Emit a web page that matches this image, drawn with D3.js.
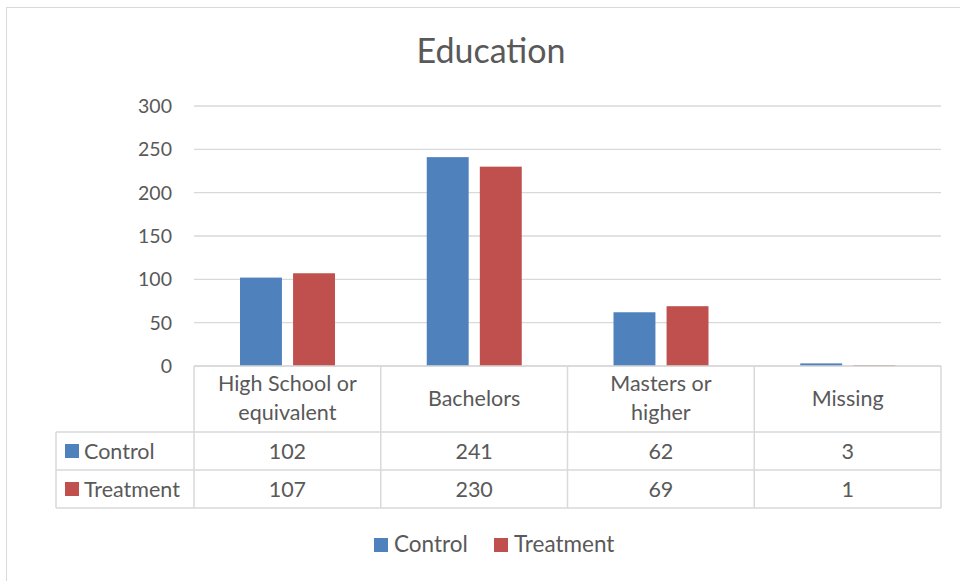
<!DOCTYPE html>
<html><head><meta charset="utf-8">
<script src="https://cdn.jsdelivr.net/npm/d3@7"></script>
<style>body{margin:0;background:#fff}svg{display:block}text{font-family:Lato,"Open Sans",sans-serif;fill:#595959}</style>
</head><body><svg id="c" width="960" height="581"></svg>
<script>
const categories = [["High School or","equivalent"],["Bachelors"],["Masters or","higher"],["Missing"]];
const seriesNames = ["Control","Treatment"];
const control = [102,241,62,3];
const treatment = [107,230,69,1];
const yTicks = [0,50,100,150,200,250,300];
const colors = ["#4F81BD","#C0504D"];

const svg = d3.select("#c");
const L=194,R=941,T=106,B=366;
svg.append("rect").attr("x",6.5).attr("y",7.5).attr("width",960).attr("height",590).attr("fill","#fff").attr("stroke","#d9d9d9");
svg.append("text").attr("x",491).attr("y",63).attr("text-anchor","middle").style("font-size","34px").text("Education");

const y = d3.scaleLinear().domain([0,300]).range([B,T]);
const x0 = d3.scaleBand().domain(d3.range(categories.length)).range([L,R]);
const x1 = d3.scaleBand().domain([0,1]).range([46,46+95]).paddingInner(0.21);

const grid = svg.append("g");
yTicks.forEach(t=>{
  grid.append("line").attr("x1",L).attr("x2",R).attr("y1",y(t)).attr("y2",y(t)).attr("stroke","#d9d9d9").attr("stroke-width",1.3);
  svg.append("text").attr("x",172).attr("y",y(t)+7).attr("text-anchor","end").style("font-size","19.5px").text(t);
});
const series=[control,treatment];
series.forEach((s,si)=>{
  svg.append("g").selectAll("rect").data(s).join("rect")
    .attr("x",(d,i)=>x0(i)+x1(si)).attr("width",x1.bandwidth())
    .attr("y",d=>y(d)).attr("height",d=>B-y(d)).attr("fill",colors[si]);
});
// data table
const rowTop=[366,432,470,508];
const fs="21.5px";
const tg=svg.append("g").attr("stroke","#d9d9d9").attr("stroke-width",1.5);
tg.append("line").attr("x1",L).attr("x2",R).attr("y1",B).attr("y2",B);
[432,470,508].forEach(v=>tg.append("line").attr("x1",56).attr("x2",R).attr("y1",v).attr("y2",v));
tg.append("line").attr("x1",56).attr("x2",56).attr("y1",432).attr("y2",508);
categories.forEach((c,i)=>tg.append("line").attr("x1",x0(i)).attr("x2",x0(i)).attr("y1",B).attr("y2",508));
tg.append("line").attr("x1",R).attr("x2",R).attr("y1",B).attr("y2",508);
categories.forEach((c,i)=>{
  const cx=x0(i)+x0.bandwidth()/2;
  const t=svg.append("text").attr("text-anchor","middle").style("font-size",fs);
  if(c.length===2){
    t.append("tspan").attr("x",cx).attr("y",391).text(c[0]);
    t.append("tspan").attr("x",cx).attr("y",420).text(c[1]);
  } else t.attr("x",cx).attr("y",406).text(c[0]);
  series.forEach((s,si)=>{
    svg.append("text").attr("x",cx).attr("y",(rowTop[si+1]+rowTop[si+2])/2+7.5).attr("text-anchor","middle").style("font-size",fs).text(s[i]);
  });
});
seriesNames.forEach((n,si)=>{
  const cy=(rowTop[si+1]+rowTop[si+2])/2;
  svg.append("rect").attr("x",65).attr("y",cy-7).attr("width",14).attr("height",14).attr("fill",colors[si]);
  svg.append("text").attr("x",84).attr("y",cy+7.5).style("font-size",fs).text(n);
});
// legend
const lx=[374,494];
seriesNames.forEach((n,si)=>{
  svg.append("rect").attr("x",lx[si]).attr("y",538).attr("width",14).attr("height",14).attr("fill",colors[si]);
  svg.append("text").attr("x",lx[si]+20).attr("y",552).style("font-size","22.5px").text(n);
});
</script></body></html>
